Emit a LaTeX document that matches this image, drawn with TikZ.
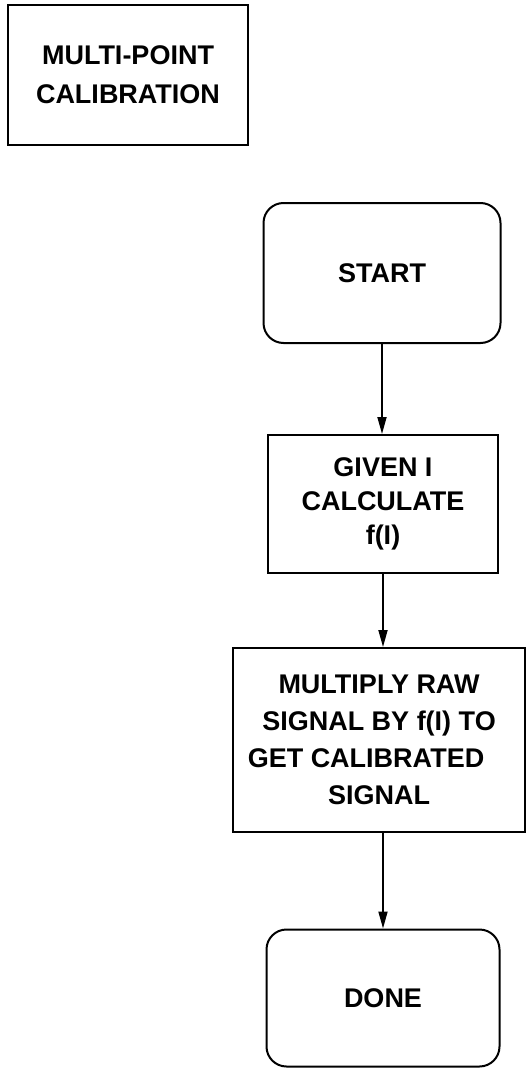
\documentclass[tikz,border=0pt]{standalone}
\usepackage{fontspec}
\setmainfont{Liberation Sans}
\usepackage{tikz}
\usetikzlibrary{positioning, arrows.meta, shapes.misc}
\tikzset{
	boxnode/.style={
			rectangle,
			draw=black,
			line width=2pt,
			fill=white,
			inner sep=0pt,
			align=center,
			font=\fontsize{27}{37}\selectfont\bfseries
		},
	termnode/.style={
			boxnode,
			rounded corners=20pt
		},
	flowarrow/.style={
			line width=1.8pt,
			-{Triangle[length=17pt,width=9pt]}
		}
}

\begin{document}
\begin{tikzpicture}[x=1pt, y=-1pt]
\useasboundingbox (0,0) rectangle (527,1070);

\node[boxnode, minimum width=240pt, minimum height=140pt] (title) at (128,75) {MULTI-POINT\\[2pt]CALIBRATION};
\node[termnode, minimum width=237pt, minimum height=140pt] (start) at (382,273) {START};
\node[boxnode, minimum width=230pt, minimum height=138pt] (given) at (383,504) {GIVEN I\\[-3pt]CALCULATE\\[-3pt]f(I)};
\node[boxnode, minimum width=292pt, minimum height=184pt] (mult) at (379,740) {MULTIPLY RAW\\SIGNAL BY f(I) TO\\GET CALIBRATED\rule{26pt}{0pt}\\SIGNAL};
\node[termnode, minimum width=233pt, minimum height=137pt] (done) at (383,998) {DONE};

\draw[flowarrow] (start.south) -- (start.south |- given.north);
\draw[flowarrow] (given.south) -- (given.south |- mult.north);
\draw[flowarrow] (given.south |- mult.south) -- (given.south |- done.north);

\end{tikzpicture}
\end{document}
